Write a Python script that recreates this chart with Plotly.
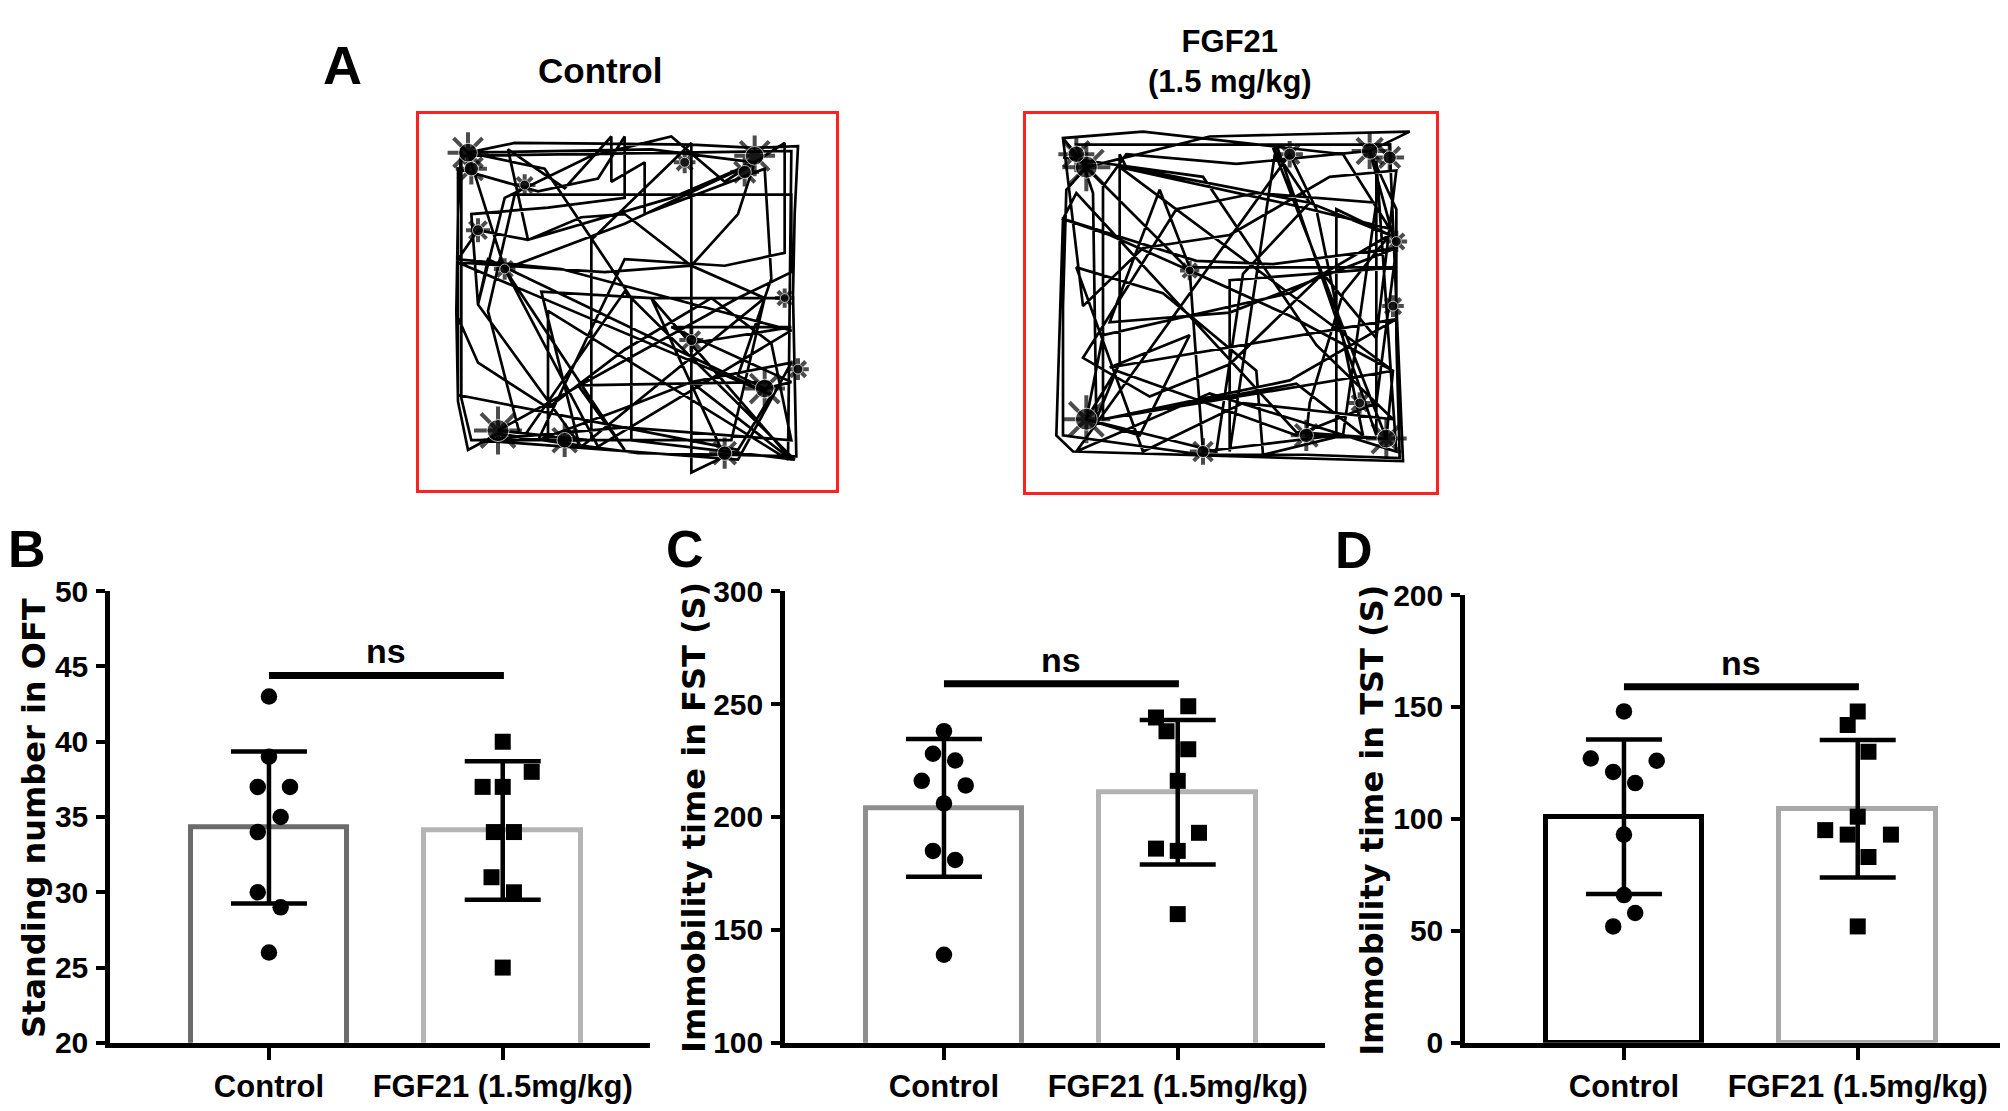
import plotly.graph_objects as go

W, H = 2008, 1111

# ---- panel A: open-field tracks (tracking-camera pixel coordinates) ----
ctrl_track_x = [90, 230, 500, 760, 950, 1080, 1070, 1065, 1070, 1075, 860, 600, 380, 180, 90, 60, 55, 60, 70, 90,
                200, 480, 1060, 620, 370, 60, 120, 270, 430, 560, 760, 900, 950, 560, 200, 560, 420, 1000, 980,
                150, 120, 430, 980, 1050, 640, 860, 760, 760, 460, 460, 180, 900, 1060, 1060, 230, 150, 250,
                560, 1070, 580, 580, 320, 90, 640, 950, 700, 270, 210, 380, 520, 520, 620, 620, 980, 1000, 900,
                980, 1060, 700, 1060, 760, 760, 1060, 640, 310, 420, 100, 70, 70, 1060, 1050, 330, 330, 880,
                980, 760, 500, 60, 1000, 900, 60, 60, 300, 480, 560, 560, 330, 100, 120, 200, 460, 700, 860,
                1040, 1040, 860, 560, 300, 560, 760, 1060, 900, 120, 560, 1060, 1000, 820, 560, 330, 120, 60]
ctrl_track_y = [110, 80, 82, 85, 95, 90, 300, 550, 800, 1050, 1045, 1040, 1010, 980, 1030, 880, 600, 300, 90, 110,
                470, 1020, 660, 540, 470, 440, 350, 380, 310, 300, 460, 300, 140, 330, 470, 1030, 830, 820, 850,
                440, 580, 1020, 560, 560, 560, 1050, 1100, 80, 380, 1000, 970, 560, 480, 240, 240, 600, 1000,
                540, 1060, 1000, 560, 160, 110, 100, 140, 250, 380, 100, 220, 60, 200, 140, 300, 160, 500, 800,
                840, 820, 650, 650, 700, 820, 1060, 560, 540, 1000, 1000, 870, 120, 105, 1060, 600, 1000, 1000,
                560, 460, 480, 450, 860, 1030, 860, 160, 230, 190, 60, 250, 280, 300, 580, 250, 120, 60, 200,
                80, 420, 460, 440, 1000, 900, 820, 760, 1060, 1000, 960, 1000, 700, 560, 720, 900, 760, 620]
ctrl_spots_x = [90, 100, 950, 920, 180, 380, 860, 980, 120, 200, 1080, 760, 740, 1040, 260]
ctrl_spots_y = [110, 160, 120, 170, 970, 1000, 1040, 840, 350, 470, 780, 690, 140, 560, 210]
ctrl_spots_s = [34, 26, 34, 24, 40, 28, 26, 34, 20, 18, 18, 20, 18, 16, 18]

fgf_track_x = [60, 130, 500, 1100, 980, 1060, 1060, 1070, 790, 480, 60, 60, 70, 130, 440, 740, 1050, 1030, 790,
               800, 900, 1040, 800, 250, 230, 230, 130, 520, 600, 800, 690, 950, 1030, 760, 100, 60, 460, 690,
               1060, 980, 580, 250, 180, 180, 740, 1060, 200, 440, 290, 130, 180, 740, 1040, 880, 880, 480,
               440, 200, 60, 40, 90, 1080, 1040, 100, 150, 160, 220, 760, 1000, 1060, 560, 200, 350, 440,
               1060, 560, 560, 700, 1000, 1000, 1060, 500, 100, 740, 820, 960, 760, 180, 1050, 230, 760,
               1040, 900, 300, 60, 120, 300, 560, 860, 1060, 1000, 840, 560, 320, 120, 400, 640, 1000, 900,
               660, 640, 360, 100, 300, 600, 1050, 820, 480, 60]
fgf_track_y = [80, 170, 75, 60, 120, 300, 700, 1070, 1060, 1060, 1000, 600, 240, 170, 490, 630, 800, 1010, 1000,
               900, 560, 380, 280, 170, 130, 780, 950, 1050, 500, 280, 110, 800, 1010, 990, 250, 330, 460, 470,
               420, 120, 160, 130, 230, 950, 830, 640, 790, 690, 1000, 950, 690, 560, 380, 300, 1000, 1050,
               490, 380, 330, 1000, 1050, 1080, 100, 100, 250, 950, 800, 1000, 900, 420, 620, 650, 240, 480,
               480, 520, 1050, 100, 1000, 150, 1050, 870, 1050, 130, 300, 1000, 840, 950, 800, 170, 290,
               360, 130, 60, 80, 600, 420, 380, 200, 180, 700, 500, 780, 880, 760, 300, 250, 280, 1000,
               1060, 800, 560, 480, 1050, 900, 950, 720, 200, 140]
fgf_spots_x = [130, 100, 980, 1040, 130, 1030, 790, 480, 740, 440, 1050, 1060, 950]
fgf_spots_y = [170, 130, 120, 140, 950, 1010, 1000, 1050, 130, 490, 600, 400, 900]
fgf_spots_s = [40, 30, 30, 24, 40, 34, 26, 22, 22, 16, 18, 18, 18]

# ---- panels B-D ----
groups = ["Control", "FGF21 (1.5mg/kg)"]

oft_ctrl = [43, 39, 37, 37, 35, 34, 30, 29, 26]
oft_ctrl_dx = [0, 0, -0.048, 0.09, 0.05, -0.048, -0.048, 0.05, 0]
oft_fgf = [40, 38, 37, 37, 34, 34, 31, 30, 25]
oft_fgf_dx = [0, 0.124, -0.086, 0, -0.038, 0.048, -0.048, 0.048, 0]
oft_mean = [34.3, 34.1]
oft_sd = [5.05, 4.6]
oft_ns = 44.4

fst_ctrl = [238, 228, 225, 216, 214, 206, 185, 181, 139]
fst_ctrl_dx = [0, -0.047, 0.048, -0.095, 0.093, 0, -0.047, 0.048, 0]
fst_fgf = [249, 244, 238, 230, 216, 193, 186, 185, 157]
fst_fgf_dx = [0.045, -0.093, -0.048, 0.045, 0, 0.091, -0.093, 0, 0]
fst_mean = [204, 211]
fst_sd = [30.5, 32]
fst_ns = 259

tst_ctrl = [148, 127, 126, 121, 116, 93, 66, 58, 52]
tst_ctrl_dx = [0, -0.142, 0.14, -0.046, 0.048, 0, 0, 0.048, -0.046]
tst_fgf = [148, 142, 130, 101, 95, 93, 93, 83, 52]
tst_fgf_dx = [0, -0.043, 0.046, 0, -0.139, -0.043, 0.142, 0.046, 0]
tst_mean = [101, 104.5]
tst_sd = [34.5, 30.7]
tst_ns = 159

ARIAL = "Liberation Sans, Arial, sans-serif"
WIDE = "DejaVu Sans, Verdana, sans-serif"


def dx(a, b):
    return [a / W, b / W]


def dy(top, bottom):
    return [1 - bottom / H, 1 - top / H]


fig = go.Figure()

# track panels
for i, (tx, ty, sx, sy, ss) in enumerate([
        (ctrl_track_x, ctrl_track_y, ctrl_spots_x, ctrl_spots_y, ctrl_spots_s),
        (fgf_track_x, fgf_track_y, fgf_spots_x, fgf_spots_y, fgf_spots_s)]):
    xa, ya = ("x", "y") if i == 0 else ("x2", "y2")
    fig.add_trace(go.Scatter(x=tx, y=ty, mode="lines", line=dict(color="black", width=2.7),
                             xaxis=xa, yaxis=ya, hoverinfo="skip", showlegend=False))
    fig.add_trace(go.Scatter(x=sx, y=sy, mode="markers", xaxis=xa, yaxis=ya, hoverinfo="skip",
                             marker=dict(symbol="asterisk-open", size=ss, color="black",
                                         line=dict(color="black", width=4)), showlegend=False))
    fig.add_trace(go.Scatter(x=sx, y=sy, mode="markers", xaxis=xa, yaxis=ya, hoverinfo="skip",
                             marker=dict(symbol="circle", size=[s * 0.55 for s in ss], color="black"),
                             showlegend=False))

panels = [
    ("x3", "y3", oft_ctrl, oft_ctrl_dx, oft_fgf, oft_fgf_dx, oft_mean, oft_sd, oft_ns, ["#6b6b6b", "#b4b4b4"]),
    ("x4", "y4", fst_ctrl, fst_ctrl_dx, fst_fgf, fst_fgf_dx, fst_mean, fst_sd, fst_ns, ["#8e8e8e", "#b2b2b2"]),
    ("x5", "y5", tst_ctrl, tst_ctrl_dx, tst_fgf, tst_fgf_dx, tst_mean, tst_sd, tst_ns, ["#000000", "#a8a8a8"]),
]

for xa, ya, c, cdx, f, fdx, m, sd, ns, cols in panels:
    fig.add_trace(go.Bar(x=[0, 1], y=m, width=0.67, xaxis=xa, yaxis=ya, showlegend=False,
                         marker=dict(color="white", line=dict(color=cols, width=5))))
    fig.add_trace(go.Scatter(x=[0 + d for d in cdx], y=c, mode="markers", xaxis=xa, yaxis=ya,
                             marker=dict(symbol="circle", size=16.5, color="black"), showlegend=False))
    fig.add_trace(go.Scatter(x=[1 + d for d in fdx], y=f, mode="markers", xaxis=xa, yaxis=ya,
                             marker=dict(symbol="square", size=16, color="black"), showlegend=False))
    fig.add_trace(go.Scatter(x=[0, 1], y=m, mode="markers", xaxis=xa, yaxis=ya, showlegend=False,
                             marker=dict(size=1, color="black"),
                             error_y=dict(type="data", array=sd, color="black", thickness=4.5, width=38)))
    fig.add_trace(go.Scatter(x=[0, 1.005], y=[ns, ns], mode="lines", xaxis=xa, yaxis=ya, showlegend=False,
                             line=dict(color="black", width=7)))
    fig.add_annotation(x=0.5, y=ns, xref=xa, yref=ya, text="ns", showarrow=False, yanchor="bottom",
                       yshift=3, font=dict(family=ARIAL, size=34, color="black", weight="bold"))

track_axis = dict(showgrid=False, zeroline=False, showticklabels=False, ticks="",
                  showline=True, mirror=True, linecolor="#ff2020", linewidth=3)

bar_x = dict(range=[-0.68, 1.63], tickvals=[0, 1], ticktext=groups, showgrid=False, zeroline=False,
             showline=True, linecolor="black", linewidth=4.5, ticks="outside", ticklen=12, tickwidth=4,
             tickcolor="black", tickfont=dict(family=ARIAL, size=31, color="black", weight="bold"))
bar_y = dict(showgrid=False, zeroline=False, showline=True, linecolor="black", linewidth=4.5,
             ticks="outside", ticklen=9, tickwidth=4, tickcolor="black", ticklabelstandoff=2,
             tickfont=dict(family=ARIAL, size=30, color="black", weight="bold"))

fig.update_layout(
    width=W, height=H, margin=dict(l=0, r=0, t=0, b=0),
    paper_bgcolor="white", plot_bgcolor="rgba(0,0,0,0)", showlegend=False, bargap=0,
    xaxis=dict(domain=dx(411, 828), range=[-57, 1194], anchor="y", **track_axis),
    yaxis=dict(domain=dy(92, 480), range=[1155, -9], anchor="x", **track_axis),
    xaxis2=dict(domain=dx(1018, 1428), range=[-51, 1179], anchor="y2", **track_axis),
    yaxis2=dict(domain=dy(92, 482), range=[1176, 6], anchor="x2", **track_axis),
    xaxis3=dict(domain=dx(102, 642), anchor="y3", **bar_x),
    yaxis3=dict(domain=dy(584, 1050), anchor="x3", range=[20, 50], dtick=5, **bar_y),
    xaxis4=dict(domain=dx(777, 1317), anchor="y4", **bar_x),
    yaxis4=dict(domain=dy(584, 1050), anchor="x4", range=[100, 300], dtick=50, **bar_y),
    xaxis5=dict(domain=dx(1457, 1997), anchor="y5", **bar_x),
    yaxis5=dict(domain=dy(588, 1050), anchor="x5", range=[0, 200], dtick=50, **bar_y),
)


# text labels
def label(text, x, y, size, family, angle=0):
    fig.add_annotation(x=x / W, y=1 - y / H, xref="paper", yref="paper", text=text, showarrow=False,
                       xanchor="center", yanchor="middle", textangle=angle,
                       font=dict(family=family, size=size, color="black", weight="bold"))


label("A", 334, 41, 54, ARIAL)
label("Control", 592, 47, 35, ARIAL)
label("FGF21<br>(1.5 mg/kg)", 1222, 38, 31, ARIAL)
label("B", 19, 541, 52, ARIAL)
label("C", 677, 541, 52, ARIAL)
label("D", 1346, 542, 52, ARIAL)
label("Standing number in OFT", 26, 818, 32, WIDE, -90)
label("Immobility time in FST (S)", 686, 818, 32, WIDE, -90)
label("Immobility time in TST (S)", 1364, 821, 32, WIDE, -90)

fig.write_html("out.html")
